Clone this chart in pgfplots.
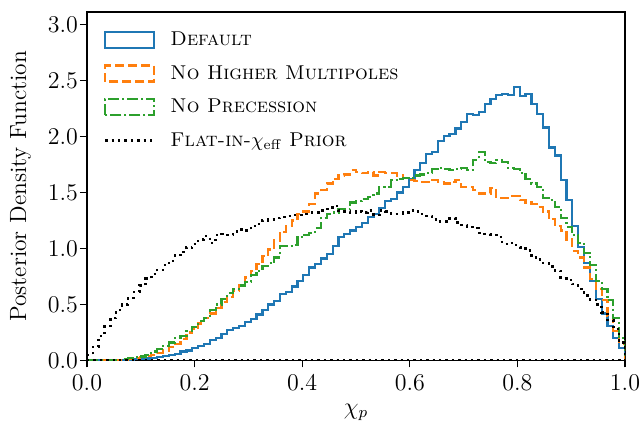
\documentclass[border=0pt]{standalone}
\usepackage{pgfplots}
\pgfplotsset{compat=1.18}
\usepackage{pgfplotstable}
\usetikzlibrary{calc}

\definecolor{c0}{RGB}{31,119,180}
\definecolor{c1}{RGB}{255,127,14}
\definecolor{c2}{RGB}{44,160,44}

\pgfplotsset{
  histlegend/.style={legend image code/.code={\draw[##1,solid,line join=miter] (0pt,-4pt) rectangle (24.5pt,4pt);}},
  histlegenddash/.style={legend image code/.code={\draw[##1,line join=miter] (0pt,-4pt) rectangle (24.5pt,4pt);}},
  linelegend/.style={legend image code/.code={\draw[##1] (0pt,0pt) -- (24.5pt,0pt);}},
}

% chi_p posterior histograms, 92 bins on [0,1]; last row closes the step at x=1
\pgfplotstableread{
k  def   nohm  noprec flat
0  0     0     0      0.05
1  0     0     0      0.12
2  0     0     0      0.22
3  0     0     0      0.31
4  0     0.002 0      0.38
5  0.003 0.004 0.005  0.45
6  0.005 0.008 0.012  0.50
7  0.008 0.015 0.020  0.56
8  0.010 0.022 0.028  0.61
9  0.014 0.030 0.035  0.67
10 0.018 0.040 0.050  0.73
11 0.022 0.052 0.080  0.77
12 0.030 0.070 0.100  0.81
13 0.040 0.090 0.130  0.85
14 0.050 0.120 0.160  0.89
15 0.060 0.150 0.200  0.94
16 0.080 0.190 0.220  0.97
17 0.090 0.250 0.260  1.01
18 0.110 0.280 0.300  1.04
19 0.130 0.330 0.350  1.08
20 0.150 0.380 0.380  1.11
21 0.180 0.420 0.450  1.05
22 0.200 0.470 0.500  1.12
23 0.240 0.520 0.550  1.13
24 0.270 0.570 0.600  1.12
25 0.290 0.620 0.640  1.15
26 0.310 0.670 0.670  1.17
27 0.340 0.740 0.700  1.16
28 0.370 0.800 0.760  1.20
29 0.410 0.860 0.800  1.22
30 0.450 0.930 0.840  1.25
31 0.500 0.990 0.870  1.26
32 0.530 1.070 0.920  1.27
33 0.590 1.150 1.020  1.28
34 0.610 1.200 1.020  1.29
35 0.660 1.250 1.030  1.30
36 0.710 1.310 1.100  1.30
37 0.760 1.330 1.120  1.31
38 0.830 1.400 1.140  1.32
39 0.860 1.490 1.180  1.32
40 0.910 1.520 1.270  1.34
41 0.950 1.580 1.310  1.35
42 1.020 1.620 1.320  1.38
43 1.100 1.650 1.350  1.34
44 1.130 1.660 1.350  1.33
45 1.160 1.700 1.410  1.32
46 1.190 1.680 1.420  1.33
47 1.230 1.670 1.440  1.32
48 1.280 1.680 1.460  1.34
49 1.310 1.650 1.490  1.30
50 1.360 1.680 1.550  1.34
51 1.420 1.670 1.550  1.33
52 1.440 1.670 1.610  1.31
53 1.500 1.650 1.620  1.31
54 1.550 1.630 1.630  1.32
55 1.620 1.610 1.630  1.34
56 1.700 1.600 1.650  1.33
57 1.760 1.590 1.660  1.31
58 1.840 1.590 1.670  1.29
59 1.860 1.610 1.710  1.26
60 1.960 1.590 1.720  1.24
61 2.000 1.580 1.710  1.24
62 2.020 1.590 1.700  1.27
63 2.070 1.610 1.710  1.23
64 2.130 1.550 1.720  1.21
65 2.200 1.550 1.700  1.19
66 2.190 1.520 1.790  1.18
67 2.220 1.490 1.860  1.14
68 2.290 1.490 1.770  1.13
69 2.330 1.540 1.760  1.12
70 2.370 1.450 1.790  1.10
71 2.380 1.450 1.770  1.04
72 2.370 1.470 1.720  1.05
73 2.440 1.470 1.710  1.03
74 2.360 1.430 1.670  1.01
75 2.380 1.410 1.620  0.98
76 2.290 1.400 1.580  0.92
77 2.200 1.370 1.550  0.90
78 2.080 1.330 1.450  0.87
79 1.900 1.260 1.430  0.84
80 1.830 1.200 1.370  0.80
81 1.610 1.160 1.270  0.73
82 1.430 1.080 1.190  0.72
83 1.200 0.980 1.120  0.68
84 1.010 0.920 1.050  0.64
85 0.870 0.830 0.960  0.58
86 0.710 0.730 0.850  0.54
87 0.550 0.640 0.710  0.50
88 0.420 0.540 0.640  0.43
89 0.310 0.400 0.540  0.36
90 0.200 0.260 0.380  0.28
91 0.110 0.150 0.200  0.16
92 0     0     0      0
}\chip

\begin{document}
\begin{tikzpicture}
\begin{axis}[
    scale only axis,
    width=269pt, height=174.25pt,
    xmin=0, xmax=1, ymin=0, ymax=3.11,
    xtick={0,0.2,...,1.0}, ytick={0,0.5,...,3.0},
    xticklabel style={/pgf/number format/.cd, fixed, fixed zerofill, precision=1},
    yticklabel style={xshift=2.5pt, /pgf/number format/.cd, fixed, fixed zerofill, precision=1},
    tick align=outside, tick pos=left,
    major tick length=3.5pt,
    every tick/.style={black, line width=0.6pt},
    axis line style={line width=0.6pt},
    tick label style={font=\fontsize{11.75}{14}\selectfont},
    label style={font=\fontsize{11.75}{14}\selectfont},
    xlabel={$\chi_p$},
    ylabel={Posterior Density Function},
    ylabel style={at={(rel axis cs:-0.1236,0.5)}, anchor=center},
    xlabel style={at={(rel axis cs:0.5,0)}, anchor=center, yshift=-26pt},
    legend cell align=left,
    legend style={draw=none, fill=none, at={(rel axis cs:0.031,0.965)}, anchor=north west,
      font=\fontsize{10}{12}\selectfont, inner sep=0pt,
      nodes={inner sep=2pt, text height=8.5pt, text depth=3pt},
      row sep=1.25pt, column sep=5.5pt},
    table/x expr=\thisrow{k}/92,
]
\addplot[const plot, c0, line width=1.1pt, histlegend] table[y=def] {\chip};
\addlegendentry{\textsc{Default}}
\addplot[const plot, c1, line width=1.1pt, dash pattern=on 4.5pt off 2pt, histlegenddash] table[y=nohm] {\chip};
\addlegendentry{\textsc{No Higher Multipoles}}
\addplot[const plot, c2, line width=1.1pt, dash pattern=on 5.5pt off 1.5pt on 1pt off 1.5pt, histlegenddash] table[y=noprec] {\chip};
\addlegendentry{\textsc{No Precession}}
\addplot[const plot, black, line width=1.2pt, dash pattern=on 1.2pt off 2pt, linelegend] table[y=flat] {\chip};
\addlegendentry{\textsc{Flat-in-}$\chi_{\rm eff}$ \textsc{Prior}}
\addplot[black, line width=1.2pt, dash pattern=on 1.2pt off 2pt, forget plot] coordinates {(0,0) (1,0)};
\end{axis}
\pgfresetboundingbox
\path[use as bounding box] ($(current axis.south west)+(-43.5pt,-30.75pt)$) rectangle ($(current axis.north east)+(8.5pt,6pt)$);
\end{tikzpicture}
\end{document}
